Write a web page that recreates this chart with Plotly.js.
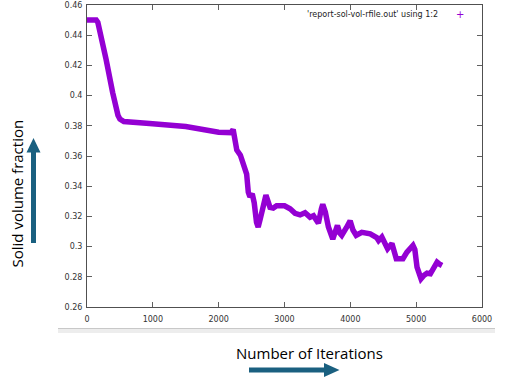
<!DOCTYPE html>
<html>
<head>
<meta charset="utf-8">
<script src="https://cdn.plot.ly/plotly-3.0.1.min.js"></script>
<style>html,body{margin:0;padding:0;background:#fff;}#chart{width:516px;height:388px;}</style>
</head>
<body>
<div id="chart"></div>
<script>
// Data
const iterations = [0,140,165,190,240,290,390,440,470,500,525,560,950,1500,2000,2190,2220,2250,2275,2330,2375,2425,2450,2475,2510,2540,2575,2600,2630,2660,2718,2750,2780,2830,2880,3000,3085,3160,3236,3312,3388,3440,3515,3560,3581,3620,3667,3733,3770,3804,3840,3870,3940,3997,4040,4089,4175,4302,4400,4429,4479,4530,4566,4632,4698,4799,4860,4951,4980,5013,5074,5120,5165,5216,5280,5317,5350,5393];
const solidFraction = [0.450,0.450,0.4485,0.444,0.434,0.424,0.402,0.392,0.387,0.3845,0.3834,0.3828,0.3815,0.3795,0.3757,0.3755,0.3775,0.370,0.364,0.3605,0.353,0.348,0.336,0.333,0.335,0.329,0.316,0.313,0.318,0.324,0.334,0.330,0.326,0.3255,0.327,0.327,0.325,0.322,0.321,0.3225,0.3195,0.3205,0.3155,0.325,0.328,0.323,0.313,0.305,0.309,0.314,0.309,0.3075,0.3125,0.317,0.311,0.3075,0.3095,0.3085,0.306,0.304,0.3063,0.302,0.2986,0.302,0.292,0.292,0.2964,0.3008,0.298,0.2864,0.2787,0.281,0.2824,0.282,0.287,0.2897,0.2885,0.2875];
const xTickValues = [0,1000,2000,3000,4000,5000,6000];
const yTickValues = [0.26,0.28,0.30,0.32,0.34,0.36,0.38,0.40,0.42,0.44,0.46];
const yTickLabels = ['0.26','0.28','0.3','0.32','0.34','0.36','0.38','0.4','0.42','0.44','0.46'];
const legendText = "'report-sol-vol-rfile.out' using 1:2";
const xTitle = 'Number of Iterations';
const yTitle = 'Solid volume fraction';

// Layout geometry
const W = 516, H = 388, L = 87, R = 34, T = 5, B = 81;
const PW = W - L - R, PH = H - T - B;
const px = x => (x - L) / PW;
const py = y => (T + PH - y) / PH;
function pathFrom(points) {
  return 'M' + points.map(p => px(p[0]).toFixed(5) + ',' + py(p[1]).toFixed(5)).join(' L') + ' Z';
}
const arrowColor = '#1a6080';
const vArrow = [[31,243],[31,152.5],[26.5,152.5],[33.5,138],[40.5,152.5],[36,152.5],[36,243]];
const hArrow = [[249,367.5],[324,367.5],[324,363],[339.5,370],[324,377],[324,372.5],[249,372.5]];

const trace = {
  x: iterations, y: solidFraction, type: 'scatter', mode: 'lines',
  line: {color: '#9400D3', width: 5.5}, showlegend: false, hoverinfo: 'skip'
};

const axisCommon = {
  showline: true, linecolor: '#505050', linewidth: 1, mirror: 'ticks',
  ticks: 'inside', ticklen: 5, tickwidth: 1, tickcolor: '#606060',
  showgrid: false, zeroline: false,
  tickfont: {family: 'DejaVu Sans', size: 8, color: '#333'}
};

const layout = {
  width: W, height: H,
  margin: {l: L, r: R, t: T, b: B, pad: 0},
  paper_bgcolor: '#fff', plot_bgcolor: '#fff',
  xaxis: Object.assign({}, axisCommon, {range: [0, 6000], tickvals: xTickValues, ticklabelstandoff: 4}),
  yaxis: Object.assign({}, axisCommon, {range: [0.26, 0.46], tickvals: yTickValues, ticktext: yTickLabels, ticklabelstandoff: 2}),
  shapes: [
    {type: 'rect', xref: 'paper', yref: 'paper', x0: px(58), x1: px(495), y0: py(333), y1: py(328.5), fillcolor: '#ededed', line: {width: 0}, layer: 'below'},
    {type: 'line', xref: 'paper', yref: 'paper', x0: px(58), x1: px(495), y0: py(328.5), y1: py(328.5), line: {color: '#c8c8c8', width: 1}},
    {type: 'path', xref: 'paper', yref: 'paper', path: pathFrom(vArrow), fillcolor: arrowColor, line: {width: 0}},
    {type: 'path', xref: 'paper', yref: 'paper', path: pathFrom(hArrow), fillcolor: arrowColor, line: {width: 0}}
  ],
  annotations: [
    {text: legendText, xref: 'paper', yref: 'paper', x: px(440), y: py(15), xanchor: 'right', yanchor: 'middle', showarrow: false, font: {family: 'DejaVu Sans', size: 8, color: '#222'}},
    {text: '+', xref: 'paper', yref: 'paper', x: px(459.5), y: py(14.5), xanchor: 'center', yanchor: 'middle', showarrow: false, font: {family: 'DejaVu Sans', size: 10, color: '#9400D3'}},
    {text: xTitle, xref: 'paper', yref: 'paper', x: px(309.5), y: py(353), xanchor: 'center', yanchor: 'middle', showarrow: false, font: {family: 'Open Sans', size: 15, color: '#000'}},
    {text: yTitle, xref: 'paper', yref: 'paper', x: px(16.5), y: py(194), xanchor: 'center', yanchor: 'middle', textangle: -90, showarrow: false, font: {family: 'Open Sans', size: 15, color: '#000'}}
  ]
};

Plotly.newPlot('chart', [trace], layout, {staticPlot: true, displayModeBar: false});
</script>
</body>
</html>
